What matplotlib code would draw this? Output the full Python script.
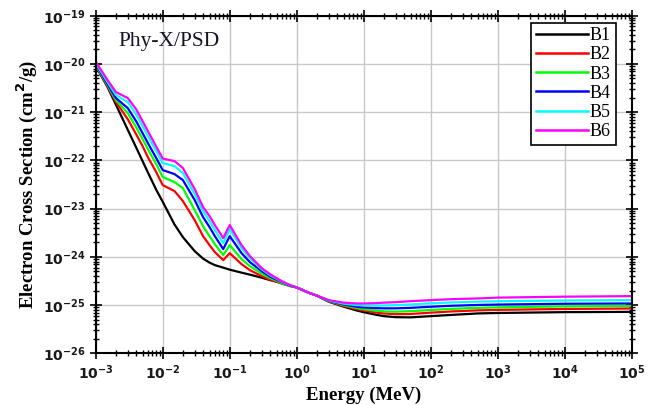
import numpy as np
import matplotlib
matplotlib.use("Agg")
import matplotlib.pyplot as plt
from matplotlib.ticker import FixedLocator, FixedFormatter, NullFormatter

# Photon energy grid (MeV)
energy = [1e-3, 1.5e-3, 2e-3, 3e-3, 4e-3, 5e-3, 6e-3, 8e-3,
          1e-2, 1.5e-2, 2e-2, 3e-2, 4e-2, 5e-2, 6e-2, 8e-2,
          0.1, 0.15, 0.2, 0.3, 0.4, 0.5, 0.6, 0.8, 1.0,
          1.5, 2, 3, 5, 8, 10, 15, 20, 30, 50, 100, 200, 500,
          1e3, 1e4, 1e5]

# log10 of electron cross section (cm^2/g)
b1_log = [-20.044, -20.479, -20.844, -21.363, -21.728, -22.015, -22.249, -22.610,
          -22.859, -23.330, -23.591, -23.882, -24.037, -24.120, -24.172, -24.224,
          -24.266, -24.328, -24.369, -24.432, -24.483, -24.515, -24.546, -24.598, -24.635,
          -24.743, -24.805, -24.929, -25.033, -25.116, -25.147, -25.199, -25.230, -25.251,
          -25.255, -25.230, -25.205, -25.174, -25.164, -25.147, -25.141]
b2_log = [-20.033, -20.459, -20.790, -21.143, -21.454, -21.703, -21.932, -22.243,
          -22.512, -22.637, -22.844, -23.239, -23.571, -23.757, -23.902, -24.068,
          -23.923, -24.151, -24.276, -24.400, -24.473, -24.515, -24.556, -24.608, -24.635,
          -24.743, -24.805, -24.925, -25.019, -25.085, -25.112, -25.154, -25.174, -25.189,
          -25.185, -25.158, -25.133, -25.110, -25.100, -25.081, -25.071]
b3_log = [-20.023, -20.438, -20.749, -21.019, -21.309, -21.558, -21.766, -22.077,
          -22.346, -22.450, -22.575, -23.031, -23.363, -23.571, -23.737, -23.965,
          -23.757, -24.048, -24.193, -24.349, -24.442, -24.494, -24.546, -24.608, -24.635,
          -24.743, -24.805, -24.919, -25.002, -25.064, -25.085, -25.116, -25.131, -25.137,
          -25.127, -25.102, -25.079, -25.058, -25.048, -25.027, -25.017]
b4_log = [-20.002, -20.417, -20.707, -20.915, -21.185, -21.434, -21.641, -21.952,
          -22.201, -22.284, -22.409, -22.824, -23.176, -23.384, -23.571, -23.840,
          -23.571, -23.923, -24.110, -24.297, -24.411, -24.473, -24.525, -24.598, -24.635,
          -24.743, -24.805, -24.913, -24.988, -25.037, -25.050, -25.064, -25.068, -25.068,
          -25.058, -25.035, -25.015, -24.998, -24.990, -24.973, -24.967]
b5_log = [-19.981, -20.376, -20.645, -20.790, -21.039, -21.288, -21.496, -21.807,
          -22.056, -22.118, -22.263, -22.699, -23.052, -23.259, -23.446, -23.716,
          -23.425, -23.820, -24.027, -24.255, -24.380, -24.452, -24.515, -24.587, -24.635,
          -24.743, -24.805, -24.905, -24.971, -25.002, -25.008, -25.012, -25.008, -25.002,
          -24.988, -24.965, -24.946, -24.929, -24.921, -24.905, -24.898]
b6_log = [-19.954, -20.334, -20.583, -20.707, -20.936, -21.185, -21.392, -21.714,
          -21.963, -22.015, -22.160, -22.595, -22.969, -23.156, -23.342, -23.612,
          -23.342, -23.757, -23.985, -24.234, -24.359, -24.442, -24.504, -24.587, -24.635,
          -24.743, -24.805, -24.898, -24.950, -24.967, -24.967, -24.961, -24.950, -24.940,
          -24.919, -24.898, -24.878, -24.863, -24.846, -24.826, -24.815]

series_labels = ["B1", "B2", "B3", "B4", "B5", "B6"]
series_logs = [b1_log, b2_log, b3_log, b4_log, b5_log, b6_log]
colors = ["#000000", "#ff0000", "#00ff00", "#0000ff", "#00ffff", "#ff00ff"]

# Tick decades and labels
x_decades = [-3, -2, -1, 0, 1, 2, 3, 4, 5]
y_decades = [-26, -25, -24, -23, -22, -21, -20, -19]
x_ticklabels = [r'$\mathbf{10^{%d}}$' % d for d in x_decades]
y_ticklabels = [r'$\mathbf{10^{%d}}$' % d for d in y_decades]

plt.rcParams['mathtext.fontset'] = 'dejavusans'

fig = plt.figure(figsize=(6.53, 4.05), dpi=100)
ax = fig.add_axes([0.1466, 0.1277, 0.8208, 0.8335])

E = np.array(energy)
for lab, lg, c in zip(series_labels, series_logs, colors):
    ax.plot(E, 10.0 ** np.array(lg), color=c, lw=1.6, label=lab)

ax.set_xscale('log')
ax.set_yscale('log')
ax.set_xlim(1e-3, 1e5)
ax.set_ylim(1e-26, 1e-19)

xmaj = [10.0 ** d for d in x_decades]
ymaj = [10.0 ** d for d in y_decades]
xmin = [m * 10.0 ** d for d in x_decades[:-1] for m in range(2, 10)]
ymin = [m * 10.0 ** d for d in y_decades[:-1] for m in range(2, 10)]
ax.xaxis.set_major_locator(FixedLocator(xmaj))
ax.yaxis.set_major_locator(FixedLocator(ymaj))
ax.xaxis.set_minor_locator(FixedLocator(xmin))
ax.yaxis.set_minor_locator(FixedLocator(ymin))
ax.xaxis.set_major_formatter(FixedFormatter(x_ticklabels))
ax.yaxis.set_major_formatter(FixedFormatter(y_ticklabels))
ax.xaxis.set_minor_formatter(NullFormatter())
ax.yaxis.set_minor_formatter(NullFormatter())

ax.tick_params(which='both', direction='inout', top=True, right=True,
               color='black', labelsize=10, labelcolor='#1a1a1a')
ax.tick_params(which='major', length=9, width=1.2, pad=3)
ax.tick_params(which='minor', length=5, width=1.0)

ax.grid(True, which='major', color='#c8c8c8', lw=1.0)
ax.set_axisbelow(True)
for s in ax.spines.values():
    s.set_linewidth(1.5)
    s.set_color('black')

ax.set_xlabel('Energy (MeV)', fontfamily='Liberation Serif', fontweight='bold',
              fontsize=13.5, labelpad=3)
ax.set_ylabel(r'Electron Cross Section (cm$^{\mathbf{2}}$/g)',
              fontfamily='Liberation Serif', fontweight='bold', fontsize=13.5, labelpad=3)

ax.text(0.042, 0.925, 'Phy-X/PSD', transform=ax.transAxes, fontfamily='Liberation Serif',
        fontsize=15.5, color='#141428', ha='left', va='center')

leg = ax.legend(loc='upper right', bbox_to_anchor=(0.970, 0.979), frameon=True,
                fancybox=False, edgecolor='black', framealpha=1,
                prop={'family': 'Liberation Serif', 'size': 13},
                handlelength=2.9, handletextpad=0.1, labelspacing=0.12,
                borderpad=0.25, borderaxespad=0.0)
leg.get_frame().set_linewidth(1.2)
for l in leg.get_lines():
    l.set_linewidth(1.8)

fig.savefig('out.png', dpi=100)
